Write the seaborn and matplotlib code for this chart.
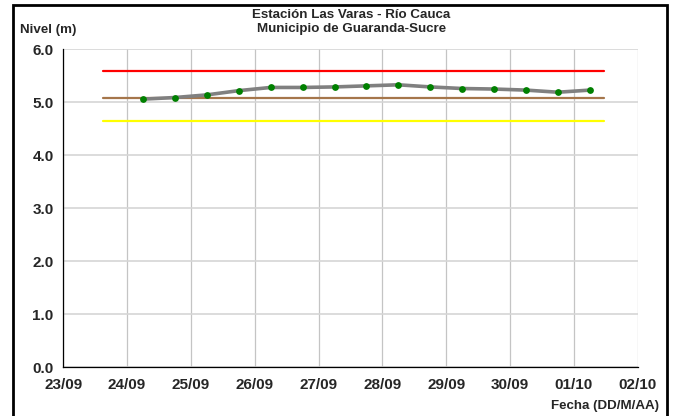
import matplotlib
matplotlib.use("Agg")
import matplotlib.pyplot as plt
import matplotlib.dates as mdates
from matplotlib.patches import Rectangle
import seaborn as sns
import pandas as pd

# lecturas del nivel (dos por dia, 06:00 y 18:00)
fechas = ["2010-09-24 06:00", "2010-09-24 18:00", "2010-09-25 06:00", "2010-09-25 18:00",
          "2010-09-26 06:00", "2010-09-26 18:00", "2010-09-27 06:00", "2010-09-27 18:00",
          "2010-09-28 06:00", "2010-09-28 18:00", "2010-09-29 06:00", "2010-09-29 18:00",
          "2010-09-30 06:00", "2010-09-30 18:00", "2010-10-01 06:00"]
niveles = [5.06, 5.09, 5.14, 5.22, 5.28, 5.28, 5.29, 5.31,
           5.33, 5.29, 5.26, 5.25, 5.23, 5.19, 5.23]

# umbrales (rojo, cafe, amarillo)
umbral_valores = [5.59, 5.09, 4.65]
umbral_colores = ["#FF0000", "#A5764B", "#FFFF00"]
umbral_inicio = "2010-09-23 15:00"
umbral_fin = "2010-10-01 11:15"

x_inicio = "2010-09-23"
x_fin = "2010-10-02"
y_ticks = [0.0, 1.0, 2.0, 3.0, 4.0, 5.0, 6.0]

titulo = "Estación Las Varas - Río Cauca\nMunicipio de Guaranda-Sucre"
ylabel = "Nivel (m)"
xlabel = "Fecha (DD/M/AA)"

df = pd.DataFrame({"fecha": pd.to_datetime(fechas), "nivel": niveles})

sns.set_style("white")
plt.rcParams["font.family"] = ["Liberation Sans", "DejaVu Sans"]
plt.rcParams["font.weight"] = "bold"

fig = plt.figure(figsize=(6.74, 4.16), dpi=100)
ax = fig.add_axes([0.0939, 0.1171, 0.8522, 0.7644])

# lineas de umbral
for val, col in zip(umbral_valores, umbral_colores):
    tdf = pd.DataFrame({"fecha": pd.to_datetime([umbral_inicio, umbral_fin]), "nivel": [val, val]})
    sns.lineplot(data=tdf, x="fecha", y="nivel", color=col, linewidth=1.6, ax=ax, zorder=2)

# serie de niveles
sns.lineplot(data=df, x="fecha", y="nivel", color="#808080", linewidth=2.6, ax=ax, zorder=3)
sns.scatterplot(data=df, x="fecha", y="nivel", color="#008000", s=24, linewidth=0, ax=ax, zorder=4)

ax.set_xlim(pd.Timestamp(x_inicio), pd.Timestamp(x_fin))
ax.set_ylim(0, 6)
ax.set_yticks(y_ticks)
ax.yaxis.set_major_formatter(matplotlib.ticker.FormatStrFormatter("%.1f"))
ax.xaxis.set_major_locator(mdates.DayLocator())
ax.xaxis.set_major_formatter(mdates.DateFormatter("%d/%m"))

ax.grid(True, axis="x", color="#C4C4C4", linewidth=0.9)
ax.grid(True, axis="y", color="#D6D6D6", linewidth=1.2)
ax.set_axisbelow(True)
for s in ["top", "right"]:
    ax.spines[s].set_visible(False)
for s in ["left", "bottom"]:
    ax.spines[s].set_color("black")
    ax.spines[s].set_linewidth(0.9)
ax.tick_params(axis="both", direction="out", length=4, width=0.9, color="black",
               labelsize=11, pad=3)
ax.tick_params(axis="x", pad=4)
for lbl in ax.get_xticklabels() + ax.get_yticklabels():
    lbl.set_fontweight("bold")
ax.set_xlabel("")
ax.set_ylabel("")

fig.text(0.521, 1 - 22 / 416, titulo, ha="center", va="center", fontsize=9.6,
         fontweight="bold", linespacing=1.12)
fig.text(20 / 674, 1 - 30 / 416, ylabel, ha="left", va="center", fontsize=9.6, fontweight="bold")
fig.text(659 / 674, 1 - 406 / 416, xlabel, ha="right", va="center", fontsize=9.6, fontweight="bold")

# marco exterior
fig.patches.append(Rectangle((12.7 / 674, -0.02), (666.7 - 12.7) / 674, 1 - 5 / 416 + 0.02,
                             transform=fig.transFigure, fill=False, edgecolor="black",
                             linewidth=2.0, zorder=10))

fig.savefig("out.png", dpi=100)
plt.close(fig)
